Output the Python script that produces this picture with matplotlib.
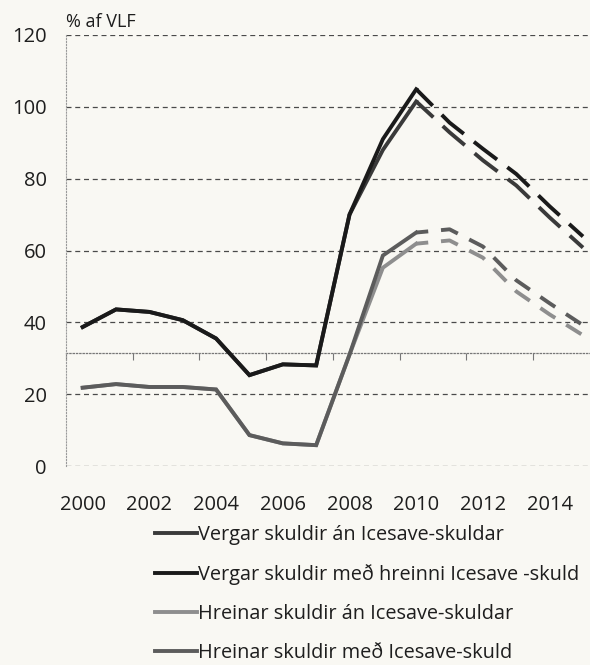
import numpy as np
import matplotlib
matplotlib.use("Agg")
import matplotlib.pyplot as plt

plt.rcParams["font.family"] = ["Open Sans", "DejaVu Sans"]

# ----------------------------
# Data (% af VLF)
# ----------------------------
years = list(range(2000, 2016))
vergar_an = [38.7, 43.6, 42.9, 40.6, 35.5, 25.3, 28.3, 28.0, 70.0, 88.0,
             101.5, 92.9, 85.1, 78.1, 69.2, 60.8]
vergar_med = [38.7, 43.6, 42.9, 40.6, 35.5, 25.3, 28.3, 28.0, 70.0, 91.0,
              104.9, 95.6, 88.3, 81.3, 72.3, 63.9]
hreinar_an = [21.8, 22.8, 22.0, 22.0, 21.3, 8.6, 6.3, 5.8, 31.0, 55.2,
              61.9, 62.8, 58.0, 48.6, 42.2, 36.4]
hreinar_med = [21.8, 22.8, 22.0, 22.0, 21.3, 8.6, 6.3, 5.8, 31.0, 58.6,
               65.0, 65.9, 61.1, 51.7, 45.3, 39.2]

labels = ["Vergar skuldir án Icesave-skuldar",
          "Vergar skuldir með hreinni Icesave -skuld",
          "Hreinar skuldir án Icesave-skuldar",
          "Hreinar skuldir með Icesave-skuld"]
series = [vergar_an, vergar_med, hreinar_an, hreinar_med]
colors = ["#3a3a3a", "#1a1a1a", "#8e8e8e", "#5c5c5c"]
dashes = [(7.5, 3.3), (7.5, 3.3), (4.6, 3.3), (4.6, 3.3)]

split = years.index(2010)  # forecast part is dashed
bg = "#f9f8f3"
txt = "#1e1e1e"

fig = plt.figure(figsize=(5.9, 6.65), dpi=100, facecolor=bg)
ax = fig.add_axes([66 / 590, 199 / 665, 1 - 66 / 590, 431 / 665])
ax.set_facecolor(bg)

for vals, col, lab, dsh in zip(series, colors, labels, dashes):
    ax.plot(years[:split + 1], vals[:split + 1], color=col, lw=2.8,
            label=lab, solid_joinstyle="miter", zorder=3)
    ax.plot(years[split:], vals[split:], color=col, lw=2.8,
            linestyle=(1.5, dsh), zorder=3)

ax.set_xlim(1999.5, 2015.21)
ax.set_ylim(0, 120)
ax.set_yticks(range(0, 121, 20))
ax.set_xticks(range(2000, 2015, 2))
ax.grid(axis="y", color="#4a4a4a", lw=0.9, linestyle=(0, (4, 3)))
ax.set_axisbelow(True)

for s in ["top", "right", "bottom"]:
    ax.spines[s].set_visible(False)
ax.spines["left"].set_color("#9a9a9a")
ax.spines["left"].set_linestyle(":")
ax.spines["left"].set_linewidth(0.8)

ax.tick_params(axis="y", length=0, pad=14, labelsize=14.5, labelcolor=txt)
ax.tick_params(axis="x", length=0, pad=21, labelsize=14.5, labelcolor=txt)

# horizontal category axis line with tick marks
sec = ax.secondary_xaxis(31.5 / 120)
sec.set_xticks(np.arange(1999.5, 2015, 2))
sec.set_xticklabels([])
sec.tick_params(direction="out", length=5, color="#777777", width=0.8)
sec.spines["bottom"].set_linestyle(":")
sec.spines["bottom"].set_color("#777777")
sec.spines["bottom"].set_linewidth(0.9)

ax.annotate("% af VLF", xy=(0, 1), xycoords="axes fraction",
            xytext=(0, 3), textcoords="offset points",
            ha="left", va="bottom", fontsize=13, color=txt)

handles, labs = ax.get_legend_handles_labels()
fig.legend(handles, labs, loc="upper left",
           bbox_to_anchor=(155 / 590, 1 - 525 / 665),
           frameon=False, fontsize=14.3, handlelength=2.1,
           handletextpad=0.05, labelspacing=0.95,
           borderaxespad=0, borderpad=0, labelcolor=txt)

fig.savefig("out.png", dpi=100, facecolor=bg)
